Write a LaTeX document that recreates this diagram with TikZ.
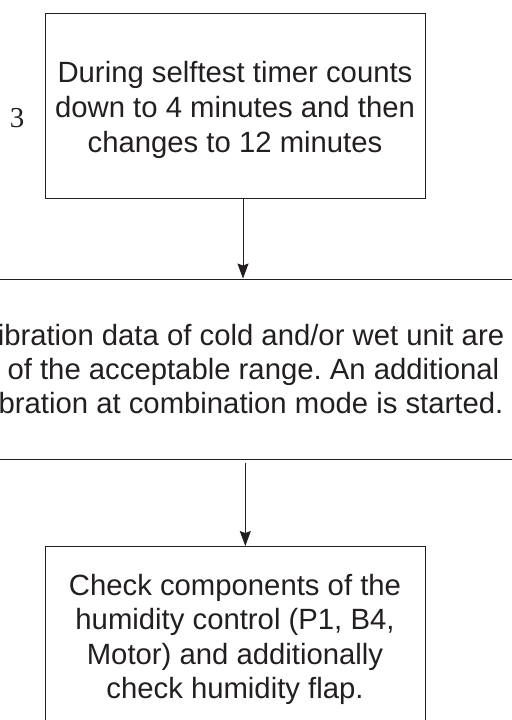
\documentclass[tikz,border=0pt]{standalone}
\usepackage{fontspec}
\setmainfont{Liberation Sans}
\newfontfamily\serifnum{Liberation Serif}
\usetikzlibrary{arrows.meta}
\definecolor{ink}{HTML}{231F20}
\frenchspacing
\tikzset{
  frame/.style={draw=ink, line width=0.9bp, inner sep=0pt},
  steptext/.style={align=center, text=ink, inner sep=0pt,
    font=\fontsize{29.4}{34.3}\selectfont},
  flow/.style={draw=ink, line width=0.9bp,
    -{Stealth[length=15bp,width=11bp,inset=2bp]}}
}
\begin{document}
\begin{tikzpicture}[x=1bp,y=-1bp]
  \useasboundingbox (0,0) rectangle (512,720);
  \clip (0,0) rectangle (512,720);

  % first step
  \node[frame, minimum width=380bp, minimum height=185bp] (top) at (235,105.5) {};
  \node[steptext, font=\fontsize{29.4}{35.5}\selectfont] (toptext) at (235,110)
    {During selftest timer counts\\down to 4 minutes and then\\changes to 12 minutes};
  \node[text=ink, font=\serifnum\fontsize{29}{34}\selectfont] (num) at (17,118) {3};

  % calibration step (wider than the sheet)
  \node[frame, minimum width=640bp, minimum height=180bp] (mid) at (229,369) {};
  \node[steptext] (midtext) at (229,369)
    {Calibration data of cold and/or wet unit are\\out of the acceptable range. An additional\\calibration at combination mode is started.};

  % final check
  \node[frame, minimum width=380bp, minimum height=182bp] (bot) at (235,637.5) {};
  \node[steptext] (bottext) at (235,639.5)
    {Check components of the\\humidity control (P1, B4,\\Motor) and additionally\\check humidity flap.};

  \coordinate (a1) at (243,198);
  \coordinate (a2) at (245.3,463);
  \draw[flow] (a1) -- (a1 |- mid.north);
  \draw[flow] (a2) -- (a2 |- bot.north);
\end{tikzpicture}
\end{document}
